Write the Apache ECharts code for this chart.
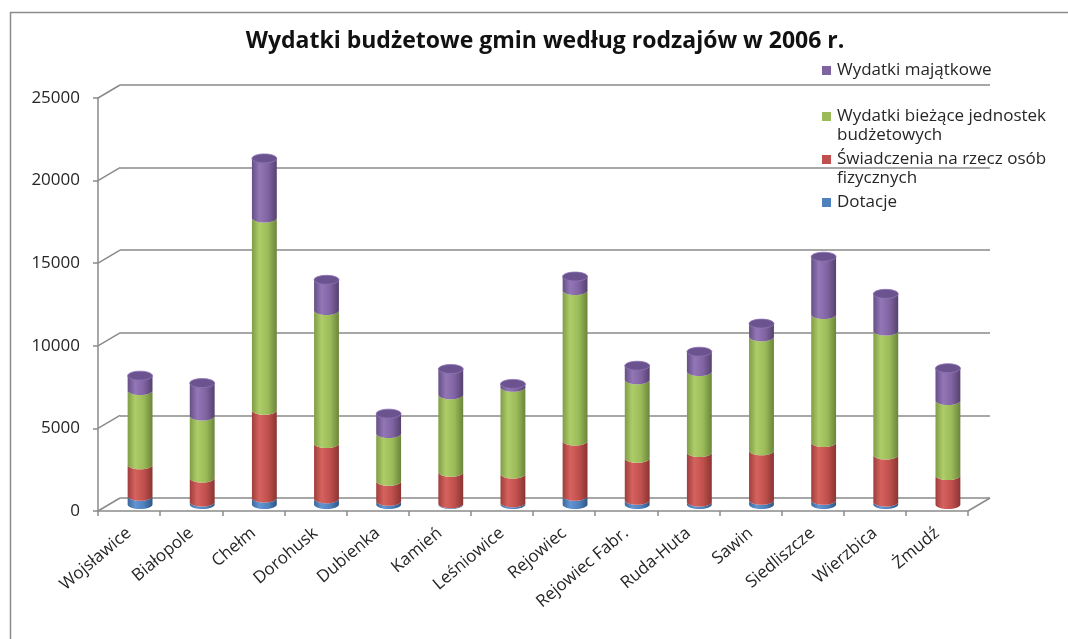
<!DOCTYPE html>
<html>
<head>
<meta charset="utf-8">
<script src="https://cdn.jsdelivr.net/npm/echarts@6/dist/echarts.min.js"></script>
<style>html,body{margin:0;padding:0;background:#fff}#c{width:1068px;height:639px}</style>
</head>
<body>
<div id="c"></div>
<script>
const categories = ['Wojsławice','Białopole','Chełm','Dorohusk','Dubienka','Kamień','Leśniowice','Rejowiec','Rejowiec Fabr.','Ruda-Huta','Sawin','Siedliszcze','Wierzbica','Żmudź'];
const dotacje     = [500, 150, 400, 350, 200, 50, 100, 500, 250, 150, 250, 250, 150, 0];
const swiadczenia = [1900, 1450, 5300, 3350, 1200, 1900, 1750, 3350, 2550, 3000, 3000, 3500, 2850, 1750];
const biezace     = [4500, 3750, 11650, 8050, 2900, 4700, 5250, 9100, 4750, 4900, 6900, 7750, 7500, 4550];
const majatkowe   = [900, 2000, 3600, 1850, 1200, 1550, 200, 850, 850, 1200, 800, 3500, 2250, 1950];
const yTicks = [0, 5000, 10000, 15000, 20000, 25000];
const seriesNames = ['Dotacje', 'Świadczenia na rzecz osób fizycznych', 'Wydatki bieżące jednostek budżetowych', 'Wydatki majątkowe'];

const FONT = '"Open Sans", Lato, sans-serif';
const DX = 22, DY = -13;
const palette = [
  {base:'#4F81BD', stops:['#3b679b','#6394d2','#4f81bd','#2f5683'], cap:'#5b8cc8'},
  {base:'#C0504D', stops:['#9e3e3b','#d6625e','#c0504d','#8a3533'], cap:'#c95a57'},
  {base:'#9BBB59', stops:['#7f9d45','#aecd69','#9bbb59','#6a853a'], cap:'#a3c262'},
  {base:'#8064A2', stops:['#664f85','#9276b6','#8064a2','#56416f'], cap:'#6b5390'}
];
const layers = [dotacje, swiadczenia, biezace, majatkowe];

function halfArc(cx, y, rx, ry) {
  const k = 0.5523;
  return 'C' + (cx - rx) + ' ' + (y + k * ry) + ' ' + (cx - k * rx) + ' ' + (y + ry) + ' ' + cx + ' ' + (y + ry) +
         ' C' + (cx + k * rx) + ' ' + (y + ry) + ' ' + (cx + rx) + ' ' + (y + k * ry) + ' ' + (cx + rx) + ' ' + y;
}
function ellipsePath(cx, cy, rx, ry) {
  const k = 0.5523;
  return 'M' + (cx - rx) + ' ' + cy +
    ' C' + (cx - rx) + ' ' + (cy - k * ry) + ' ' + (cx - k * rx) + ' ' + (cy - ry) + ' ' + cx + ' ' + (cy - ry) +
    ' C' + (cx + k * rx) + ' ' + (cy - ry) + ' ' + (cx + rx) + ' ' + (cy - k * ry) + ' ' + (cx + rx) + ' ' + cy +
    ' C' + (cx + rx) + ' ' + (cy + k * ry) + ' ' + (cx + k * rx) + ' ' + (cy + ry) + ' ' + cx + ' ' + (cy + ry) +
    ' C' + (cx - k * rx) + ' ' + (cy + ry) + ' ' + (cx - rx) + ' ' + (cy + k * ry) + ' ' + (cx - rx) + ' ' + cy + ' Z';
}

function makeRender(li) {
  const pal = palette[li];
  return function (params, api) {
    const i = api.value(0), lo = api.value(1), hi = api.value(2), isTop = api.value(3);
    if (hi - lo <= 0) return;
    const pLo = api.coord([i, lo]), pHi = api.coord([i, hi]);
    const w = api.size([1, 0])[0] * 0.4;
    const rx = w / 2, ry = 4.5, cx = pLo[0];
    const xl = cx - rx, xr = cx + rx;
    const k = 0.5523;
    const bottom = ' L' + xr + ' ' + pLo[1] +
      ' C' + xr + ' ' + (pLo[1] + k * ry) + ' ' + (cx + k * rx) + ' ' + (pLo[1] + ry) + ' ' + cx + ' ' + (pLo[1] + ry) +
      ' C' + (cx - k * rx) + ' ' + (pLo[1] + ry) + ' ' + xl + ' ' + (pLo[1] + k * ry) + ' ' + xl + ' ' + pLo[1] + ' Z';
    const d = isTop
      ? 'M' + xl + ' ' + pHi[1] + ' L' + xr + ' ' + pHi[1] + bottom
      : 'M' + xl + ' ' + pHi[1] + ' ' + halfArc(cx, pHi[1], rx, ry) + bottom;
    const grad = new echarts.graphic.LinearGradient(0, 0, 1, 0, [
      {offset: 0, color: pal.stops[0]},
      {offset: 0.3, color: pal.stops[1]},
      {offset: 0.65, color: pal.stops[2]},
      {offset: 1, color: pal.stops[3]}
    ]);
    const children = [{type: 'path', shape: {pathData: d}, style: {fill: grad}}];
    if (isTop) {
      children.push({type: 'path', shape: {pathData: ellipsePath(cx, pHi[1], rx, ry)},
        style: {fill: pal.cap, stroke: pal.stops[1], lineWidth: 0.8}});
    }
    return {type: 'group', children: children};
  };
}

const stackSeries = layers.map(function (arr, li) {
  const data = arr.map(function (v, i) {
    let base = 0;
    for (let j = 0; j < li; j++) base += layers[j][i];
    let topIdx = 0;
    for (let j = 0; j < layers.length; j++) if (layers[j][i] > 0) topIdx = j;
    return [i, base, base + v, topIdx === li ? 1 : 0];
  });
  return {
    name: seriesNames[li], type: 'custom', xAxisIndex: 1, yAxisIndex: 1,
    itemStyle: {color: palette[li].base},
    renderItem: makeRender(li), data: data, z: 10 + li
  };
});

const connectorSeries = {
  type: 'custom', xAxisIndex: 0, yAxisIndex: 0, silent: true, z: 3,
  data: yTicks.map(function (v) { return [0, v]; }),
  renderItem: function (params, api) {
    const cs = params.coordSys;
    const y = api.coord([0, api.value(1)])[1];
    const st = {stroke: '#8a8a8a', lineWidth: 1.5};
    const ch = [{type: 'line', shape: {x1: cs.x, y1: y, x2: cs.x + DX, y2: y + DY}, style: st}];
    if (api.value(1) === 0) {
      ch.push({type: 'line', shape: {x1: cs.x + cs.width, y1: y, x2: cs.x + cs.width + DX, y2: y + DY}, style: st});
    }
    return {type: 'group', children: ch};
  }
};

function legendFor(name, label, top) {
  return {
    data: [name], left: 822, top: top, orient: 'vertical', padding: 0,
    itemWidth: 9, itemHeight: 9, itemGap: 0, icon: 'rect', selectedMode: false,
    formatter: function () { return label; },
    textStyle: {fontFamily: FONT, fontSize: 17, color: '#262626', lineHeight: 19, padding: [0, 0, 0, 1]}
  };
}

const grid = {width: 870, height: 413};
const option = {
  animation: false,
  backgroundColor: '#ffffff',
  title: {
    text: 'Wydatki budżetowe gmin według rodzajów w 2006 r.',
    left: 545, textAlign: 'center', top: 30, padding: 0,
    textStyle: {fontFamily: FONT, fontSize: 23, fontWeight: 'bold', color: '#111'}
  },
  legend: [
    legendFor(seriesNames[3], 'Wydatki majątkowe', 61),
    legendFor(seriesNames[2], '\nWydatki bieżące jednostek\nbudżetowych', 88),
    legendFor(seriesNames[1], '\nŚwiadczenia na rzecz osób\nfizycznych', 131),
    legendFor(seriesNames[0], 'Dotacje', 193)
  ],
  graphic: [{type: 'rect', left: 8, top: 10, z: -10, silent: true,
    shape: {width: 1200, height: 800}, style: {fill: 'none', stroke: '#8c8c8c', lineWidth: 1.5}}],
  grid: [
    {left: 98, top: 98, width: grid.width, height: grid.height},
    {left: 98 + DX / 2, top: 98 + DY / 2, width: grid.width, height: grid.height},
    {left: 98 + DX, top: 98 + DY, width: grid.width, height: grid.height}
  ],
  xAxis: [
    {gridIndex: 0, type: 'category', data: categories,
      axisLine: {lineStyle: {color: '#8a8a8a', width: 1.5}},
      axisTick: {show: true, length: 5, lineStyle: {color: '#8a8a8a', width: 1.5}},
      axisLabel: {rotate: 40, margin: 20, fontFamily: FONT, fontSize: 17, color: '#262626', interval: 0}},
    {gridIndex: 1, type: 'category', data: categories, show: false},
    {gridIndex: 2, type: 'category', data: categories, show: false}
  ],
  yAxis: [
    {gridIndex: 0, type: 'value', min: 0, max: 25000, interval: 5000,
      axisLine: {show: true, lineStyle: {color: '#8a8a8a', width: 1.5}},
      axisTick: {show: true, length: 5, lineStyle: {color: '#8a8a8a', width: 1.5}},
      splitLine: {show: false},
      axisLabel: {margin: 18, fontFamily: FONT, fontSize: 17, color: '#262626',
        formatter: function (v) { return String(v); }}},
    {gridIndex: 1, type: 'value', min: 0, max: 25000, interval: 5000, show: false},
    {gridIndex: 2, type: 'value', min: 0, max: 25000, interval: 5000,
      axisLine: {show: false}, axisTick: {show: false}, axisLabel: {show: false},
      splitLine: {show: true, lineStyle: {color: '#8a8a8a', width: 1.5}}}
  ],
  series: [connectorSeries].concat(stackSeries)
};

const chart = echarts.init(document.getElementById('c'), null, {renderer: 'canvas'});
chart.setOption(option);
</script>
</body>
</html>
